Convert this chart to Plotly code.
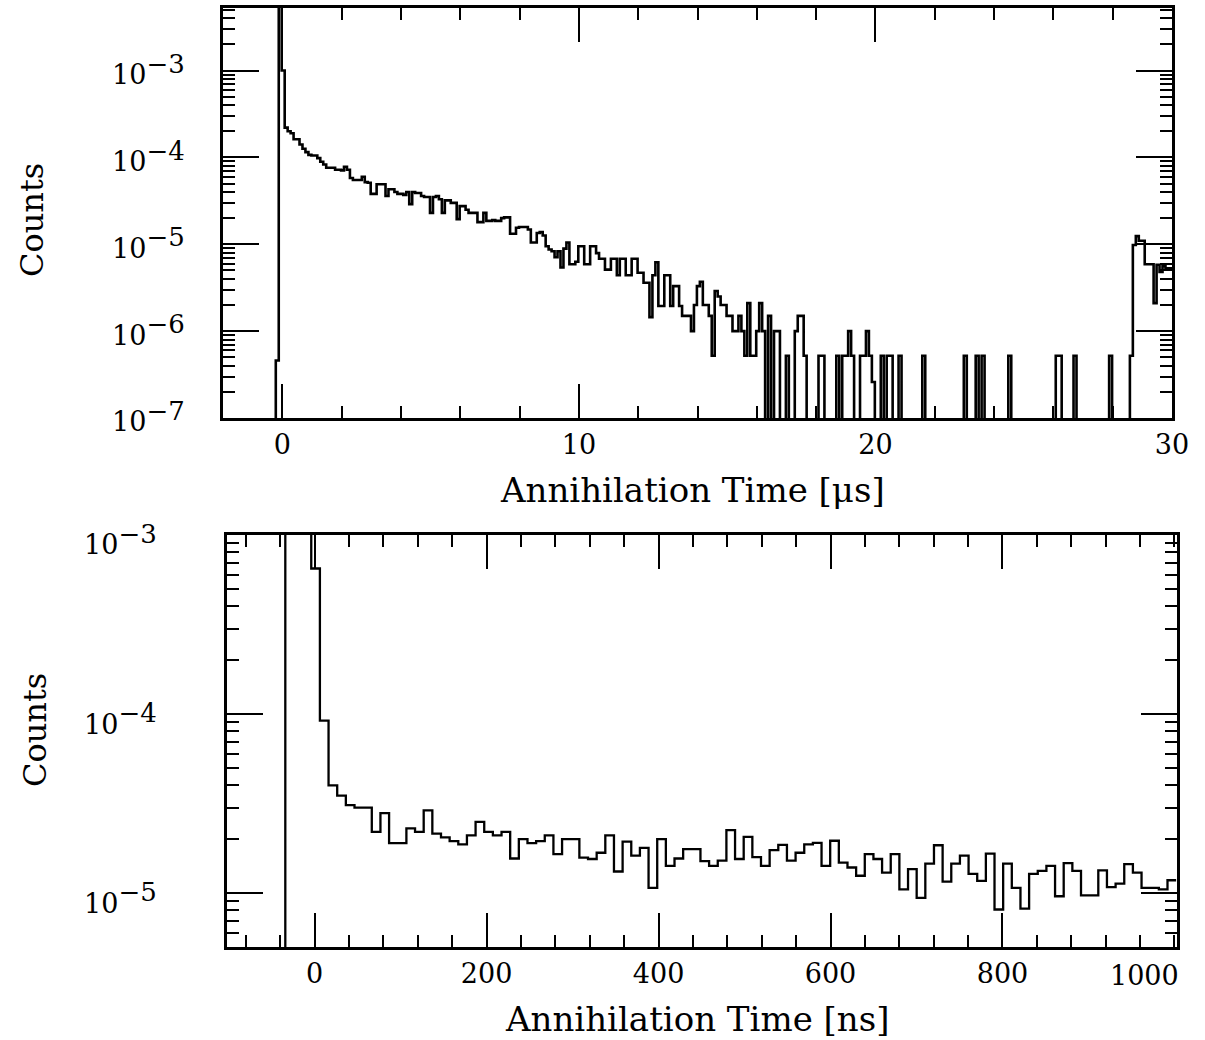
import plotly.graph_objects as go
import numpy as np

# ---------------- data: upper panel (0.1 us bins) ----------------
top_bin_width_us = 0.1
top_first_edge_us = -0.22
top_prompt = [4.6e-7, 3.0e-2]                      # bins starting at -0.22 us
top_0_5us = [1.0e-3, 2.2e-4, 2.0e-4, 1.9e-4, 1.62e-4, 1.62e-4, 1.41e-4, 1.26e-4, 1.15e-4, 1.07e-4,
             1.05e-4, 1.05e-4, 9.8e-5, 8.9e-5, 8.3e-5, 7.6e-5, 7.6e-5, 7.6e-5, 7.2e-5, 7.2e-5,
             7.1e-5, 7.8e-5, 7.2e-5, 5.8e-5, 5.5e-5, 5.5e-5, 5.5e-5, 6.0e-5, 5.2e-5, 5.1e-5,
             3.8e-5, 3.8e-5, 4.9e-5, 4.9e-5, 4.9e-5, 3.6e-5, 4.3e-5, 4.3e-5, 4.0e-5, 3.8e-5,
             3.8e-5, 3.7e-5, 4.0e-5, 2.9e-5, 4.0e-5, 3.9e-5, 3.9e-5, 3.6e-5, 3.5e-5, 3.5e-5]
top_5_10us = [2.3e-5, 3.5e-5, 3.6e-5, 3.3e-5, 2.3e-5, 3.2e-5, 3.2e-5, 3.0e-5, 3.0e-5, 1.95e-5,
              2.75e-5, 2.75e-5, 2.5e-5, 2.3e-5, 2.3e-5, 2.3e-5, 1.8e-5, 1.8e-5, 2.3e-5, 1.86e-5,
              1.86e-5, 1.9e-5, 1.86e-5, 1.86e-5, 2.0e-5, 2.04e-5, 2.04e-5, 1.32e-5, 1.32e-5, 1.55e-5,
              1.58e-5, 1.58e-5, 1.58e-5, 1.48e-5, 1.05e-5, 1.05e-5, 1.35e-5, 1.38e-5, 1.26e-5, 9.5e-6,
              8.7e-6, 8.3e-6, 7.1e-6, 8.3e-6, 5.4e-6, 8.9e-6, 1.05e-5, 5.9e-6, 5.9e-6, 6.3e-6]
top_10_15us = [9.5e-6, 9.5e-6, 5.9e-6, 5.9e-6, 9.5e-6, 9.5e-6, 7.9e-6, 6.8e-6, 6.8e-6, 5.1e-6,
               5.1e-6, 6.8e-6, 6.8e-6, 4.4e-6, 6.8e-6, 6.8e-6, 4.4e-6, 4.4e-6, 6.8e-6, 6.8e-6,
               4.7e-6, 4.7e-6, 3.6e-6, 3.6e-6, 1.45e-6, 4.4e-6, 6.2e-6, 1.95e-6, 1.95e-6, 4.4e-6,
               4.4e-6, 1.95e-6, 3.3e-6, 3.3e-6, 1.95e-6, 1.5e-6, 1.5e-6, 1.5e-6, 1.0e-6, 2.0e-6,
               3.3e-6, 3.7e-6, 2.0e-6, 2.0e-6, 1.5e-6, 5.2e-7, 2.9e-6, 2.5e-6, 2.0e-6, 2.0e-6]
top_15_20us = [1.5e-6, 1.5e-6, 1.0e-6, 1.0e-6, 1.5e-6, 1.0e-6, 5.2e-7, 2.1e-6, 5.2e-7, 5.2e-7,
               1.0e-6, 2.1e-6, 1.0e-6, 0, 1.5e-6, 0, 1.0e-6, 1.0e-6, 0, 0,
               5.2e-7, 0, 0, 1.0e-6, 1.5e-6, 1.5e-6, 5.2e-7, 0, 0, 0,
               0, 5.2e-7, 5.2e-7, 0, 0, 0, 0, 5.2e-7, 0, 5.2e-7,
               5.2e-7, 1.0e-6, 5.2e-7, 0, 0, 5.2e-7, 5.2e-7, 1.0e-6, 5.2e-7, 2.6e-7]
top_20_25us = [0, 0, 5.2e-7, 0, 5.2e-7, 5.2e-7, 0, 0, 5.2e-7, 0,
               0, 0, 0, 0, 0, 0, 5.2e-7, 0, 0, 0,
               0, 0, 0, 0, 0, 0, 0, 0, 0, 0,
               5.2e-7, 0, 0, 0, 5.2e-7, 0, 5.2e-7, 0, 0, 0,
               0, 0, 0, 0, 0, 5.2e-7, 0, 0, 0, 0]
top_25_30us = [0, 0, 0, 0, 0, 0, 0, 0, 0, 0,
               0, 5.2e-7, 5.2e-7, 0, 0, 0, 0, 5.2e-7, 0, 0,
               0, 0, 0, 0, 0, 0, 0, 0, 0, 5.2e-7,
               0, 0, 0, 0, 0, 0, 5.2e-7, 9.8e-6, 1.24e-5, 1.1e-5,
               1.1e-5, 5.9e-6, 5.9e-6, 5.9e-6, 2.1e-6, 5.8e-6, 4.8e-6, 5.6e-6, 5.3e-6, 5.3e-6,
               5.3e-6]

# ---------------- data: lower panel (~10 ns bins) ----------------
bot_bin_width_ns = 10.06
bot_first_edge_ns = -34.18
bot_prompt = [3.0e-3, 3.0e-3, 3.0e-3]
bot_0_250ns = [6.5e-4, 9.2e-5, 4.0e-5, 3.5e-5, 3.1e-5, 3.0e-5, 3.0e-5, 2.2e-5, 2.8e-5, 1.9e-5,
               1.9e-5, 2.3e-5, 2.2e-5, 2.9e-5, 2.15e-5, 2.05e-5, 1.95e-5, 1.87e-5, 2.1e-5, 2.5e-5,
               2.2e-5, 2.1e-5, 2.2e-5, 1.56e-5, 2.0e-5]
bot_250_500ns = [1.9e-5, 1.95e-5, 2.1e-5, 1.65e-5, 2.0e-5, 2.0e-5, 1.58e-5, 1.55e-5, 1.68e-5, 2.1e-5,
                 1.32e-5, 1.94e-5, 1.62e-5, 1.79e-5, 1.07e-5, 2.0e-5, 1.42e-5, 1.56e-5, 1.76e-5, 1.76e-5,
                 1.51e-5, 1.42e-5, 1.52e-5, 2.25e-5, 1.55e-5]
bot_500_750ns = [2.06e-5, 1.59e-5, 1.42e-5, 1.74e-5, 1.86e-5, 1.52e-5, 1.68e-5, 1.87e-5, 1.91e-5, 1.42e-5,
                 1.96e-5, 1.48e-5, 1.39e-5, 1.25e-5, 1.65e-5, 1.55e-5, 1.30e-5, 1.65e-5, 1.05e-5, 1.36e-5,
                 9.4e-6, 1.46e-5, 1.85e-5, 1.16e-5, 1.46e-5]
bot_750_1000ns = [1.62e-5, 1.28e-5, 1.17e-5, 1.66e-5, 8.1e-6, 1.46e-5, 1.07e-5, 8.2e-6, 1.28e-5, 1.33e-5,
                  1.42e-5, 9.6e-6, 1.47e-5, 1.33e-5, 9.7e-6, 9.7e-6, 1.34e-5, 1.08e-5, 1.13e-5, 1.45e-5,
                  1.30e-5, 1.07e-5, 1.07e-5, 1.05e-5, 1.18e-5]

top_y_ticks = [1e-7, 1e-6, 1e-5, 1e-4, 1e-3]
top_y_labels = ["−7", "−6", "−5", "−4", "−3"]
top_x_ticks = [0, 10, 20, 30]
top_x_labels = ["0", "10", "20", "30"]
bot_y_ticks = [1e-5, 1e-4, 1e-3]
bot_y_labels = ["−5", "−4", "−3"]
bot_x_ticks = [0, 200, 400, 600, 800]
bot_x_labels = ["0", "200", "400", "600", "800"]
bot_x_last_tick = 1000
bot_x_last_label = "1000"

FLOOR = 1e-12
FONT = "DejaVu Serif"
W, H = 1205, 1040


def step_xy(first_edge, width, counts):
    edges = first_edge + width * np.arange(len(counts) + 1)
    vals = [c if c > 0 else FLOOR for c in counts]
    xs = [edges[0]] + list(edges[:-1]) + [edges[-1]]
    ys = [FLOOR] + vals + [vals[-1]]
    return xs, ys


top_counts = top_prompt + top_0_5us + top_5_10us + top_10_15us + top_15_20us + top_20_25us + top_25_30us
bot_counts = bot_prompt + bot_0_250ns + bot_250_500ns + bot_500_750ns + bot_750_1000ns

tx, ty = step_xy(top_first_edge_us, top_bin_width_us, top_counts)
bx, by = step_xy(bot_first_edge_ns, bot_bin_width_ns, bot_counts)

fig = go.Figure()
fig.add_trace(go.Scatter(x=tx, y=ty, mode="lines", line=dict(color="black", width=2.6, shape="hv"),
                         xaxis="x", yaxis="y", showlegend=False, hoverinfo="skip"))
fig.add_trace(go.Scatter(x=bx, y=by, mode="lines", line=dict(color="black", width=2.3, shape="hv"),
                         xaxis="x2", yaxis="y2", showlegend=False, hoverinfo="skip"))


def px_x(p):
    return p / W


def px_y(p):
    return 1 - p / H


def sup_labels(exps):
    return ["10<sup><span style='font-size:26px'>%s</span></sup>" % e for e in exps]


def log_minor(lo, hi):
    return [m * 10.0 ** e for e in range(lo, hi) for m in range(2, 10)]


common = dict(showline=True, linecolor="black", linewidth=2.6, mirror="ticks", ticks="inside",
              tickcolor="black", tickwidth=2, showgrid=False, zeroline=False,
              tickfont=dict(family=FONT, size=27, color="black"), automargin=False)

fig.update_layout(
    width=W, height=H, margin=dict(l=0, r=0, t=0, b=0),
    paper_bgcolor="white", plot_bgcolor="white",
    font=dict(family=FONT, color="black"),
    xaxis=dict(domain=[px_x(223), px_x(1172)], range=[-2, 30], tickvals=top_x_ticks, ticktext=top_x_labels,
               ticklen=34, ticklabeloverflow="allow",
               minor=dict(dtick=2, tick0=0, ticks="inside", ticklen=12, tickwidth=2, tickcolor="black"),
               ticklabelstandoff=1, anchor="y", **common),
    yaxis=dict(domain=[px_y(418), px_y(8)], type="log", range=[-7, -2.28], tickvals=top_y_ticks,
               ticktext=sup_labels(top_y_labels), ticklen=36, ticklabelshift=4,
               minor=dict(tickvals=log_minor(-7, -2), ticks="inside", ticklen=12, tickwidth=2, tickcolor="black"),
               ticklabelstandoff=30, anchor="x", **common),
    xaxis2=dict(domain=[px_x(227), px_x(1177)], range=[-102, 1003], tickvals=bot_x_ticks, ticktext=bot_x_labels,
                ticklen=34,
                minor=dict(dtick=40, tick0=0, ticks="inside", ticklen=12, tickwidth=2, tickcolor="black"),
                ticklabelstandoff=1, anchor="y2", **common),
    yaxis2=dict(domain=[px_y(947), px_y(535)], type="log", range=[np.log10(5e-6), -3], tickvals=bot_y_ticks,
                ticktext=sup_labels(bot_y_labels), ticklen=36, ticklabelshift=10,
                minor=dict(tickvals=log_minor(-6, -3), ticks="inside", ticklen=12, tickwidth=2, tickcolor="black"),
                ticklabelstandoff=62, anchor="x2", **common),
)

# last lower-axis label sits inside the frame edge, as in the original
fig.add_annotation(text=bot_x_last_label, x=bot_x_last_tick, xref="x2", y=px_y(975), yref="paper",
                   xanchor="right", yanchor="middle", xshift=7, showarrow=False,
                   font=dict(family=FONT, size=27, color="black"))

xtitle_font = dict(family=FONT, size=34, color="black")
ytitle_font = dict(family=FONT, size=32, color="black")
fig.add_annotation(text="Annihilation Time [μs]", x=px_x(692), y=px_y(490), xref="paper", yref="paper",
                   showarrow=False, font=xtitle_font, xanchor="center", yanchor="middle")
fig.add_annotation(text="Annihilation Time [ns]", x=px_x(697), y=px_y(1019), xref="paper", yref="paper",
                   showarrow=False, font=xtitle_font, xanchor="center", yanchor="middle")
fig.add_annotation(text="Counts", x=px_x(32), y=px_y(220), xref="paper", yref="paper", textangle=-90,
                   showarrow=False, font=ytitle_font, xanchor="center", yanchor="middle")
fig.add_annotation(text="Counts", x=px_x(35), y=px_y(730), xref="paper", yref="paper", textangle=-90,
                   showarrow=False, font=ytitle_font, xanchor="center", yanchor="middle")

fig.write_html("out.html", config={"displayModeBar": False},
               post_script="document.body.style.margin='0px';document.body.style.overflow='hidden';")
